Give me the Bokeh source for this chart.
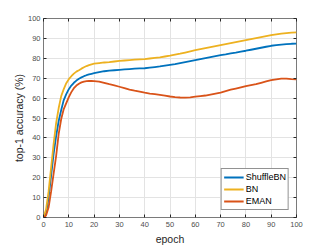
from bokeh.plotting import figure
from bokeh.models import LinearAxis, Label, Legend, LegendItem, FixedTicker, Range1d, CustomJSTickFormatter
from bokeh.embed import file_html
from bokeh.resources import INLINE

epochs = [0, 1, 2, 3, 4, 5, 6, 7, 8, 9, 10, 11, 12, 13, 14, 15, 16, 17, 18, 19, 20,
          22, 24, 26, 28, 30, 32, 34, 36, 38, 40, 42, 44, 46, 48, 50, 52, 54, 56, 58, 60,
          62, 64, 66, 68, 70, 72, 74, 76, 78, 80, 82, 84, 86, 88, 90, 92, 94, 96, 98, 100]

shufflebn = [0, 2, 10, 21, 32, 41, 48.5, 54, 59, 62, 64.5, 66.3, 67.7, 68.8, 69.7, 70.4, 71, 71.5, 71.9, 72.2, 72.5,
             73, 73.5, 73.8, 74, 74.2, 74.4, 74.6, 74.8, 74.9, 75, 75.3, 75.6, 75.9, 76.3, 76.7, 77.1, 77.6, 78.1, 78.6, 79.1,
             79.6, 80.1, 80.6, 81.1, 81.6, 82, 82.5, 82.9, 83.4, 83.8, 84.3, 84.8, 85.3, 85.8, 86.3, 86.6, 86.9, 87.1, 87.3, 87.4]

bn = [0, 4, 13, 25, 37, 47.5, 55, 61, 64.5, 67.5, 69.5, 71, 72.3, 73.3, 74, 74.8, 75.5, 76.1, 76.6, 77, 77.3,
      77.6, 77.9, 78.1, 78.4, 78.7, 78.9, 79.1, 79.3, 79.5, 79.6, 79.9, 80.2, 80.5, 80.9, 81.3, 81.8, 82.3, 82.9, 83.5, 84.1,
      84.6, 85.1, 85.6, 86.1, 86.6, 87.1, 87.6, 88.1, 88.6, 89.1, 89.6, 90.1, 90.6, 91.1, 91.6, 92, 92.4, 92.7, 92.9, 93]

eman = [0, 1, 5, 13, 22, 31, 42, 49.5, 54.5, 57.5, 60.5, 63, 65, 66.3, 67.2, 67.9, 68.3, 68.5, 68.6, 68.6, 68.5,
        68.3, 67.7, 67, 66.4, 65.7, 65, 64.3, 63.7, 63.2, 62.7, 62.3, 62, 61.6, 61.2, 60.8, 60.5, 60.3, 60.2, 60.4, 60.7,
        61, 61.3, 61.8, 62.3, 62.8, 63.5, 64.2, 64.8, 65.4, 66, 66.5, 67, 67.7, 68.4, 69, 69.4, 69.8, 69.8, 69.5, 69.4]

x_ticks = [0, 10, 20, 30, 40, 50, 60, 70, 80, 90, 100]
y_ticks = [0, 10, 20, 30, 40, 50, 60, 70, 80, 90, 100]
series_names = ["ShuffleBN", "BN", "EMAN"]
colors = ["#0072BD", "#EDB120", "#D95319"]
title_text = "MoCo on ImageNet"

FONT = "Liberation Sans"
AXC = "#262626"
TICKC = "#4d4d4d"

p = figure(frame_width=253, frame_height=199, output_backend="svg", toolbar_location=None,
           x_range=Range1d(0, 100), y_range=Range1d(0, 100),
           min_border_left=43, min_border_right=23, min_border_top=18, min_border_bottom=20)
p.background_fill_color = "white"
p.border_fill_color = "white"
p.outline_line_color = "#7a7a7a"
p.outline_line_width = 1

for ax in (p.xaxis[0], p.yaxis[0]):
    ax.axis_line_color = None
    ax.major_tick_in = 3
    ax.major_tick_out = 0
    ax.minor_tick_line_color = None
    ax.major_tick_line_color = AXC
    ax.major_label_text_font = FONT
    ax.major_label_text_font_size = "7.5px"
    ax.major_label_text_color = TICKC
    ax.axis_label_text_font = FONT
    ax.axis_label_text_font_size = "10.5px"
    ax.axis_label_text_font_style = "normal"
    ax.axis_label_text_color = AXC

p.xaxis.ticker = FixedTicker(ticks=x_ticks)
p.yaxis.ticker = FixedTicker(ticks=y_ticks)
p.xaxis.axis_label = "epoch"
p.yaxis.axis_label = "top-1 accuracy (%)"
p.xaxis.major_label_standoff = 4
p.yaxis.major_label_standoff = 3
p.xaxis.axis_label_standoff = 3
p.yaxis.axis_label_standoff = 0

for loc, tk in (("right", y_ticks), ("above", x_ticks)):
    ax = LinearAxis(ticker=FixedTicker(ticks=tk), formatter=CustomJSTickFormatter(code="return ''"))
    ax.axis_line_color = None
    ax.major_tick_in = 3
    ax.major_tick_out = 0
    ax.minor_tick_line_color = None
    ax.major_tick_line_color = AXC
    ax.major_label_standoff = 0
    ax.major_label_text_font_size = "1px"
    p.add_layout(ax, loc)

p.xgrid.ticker = FixedTicker(ticks=x_ticks)
p.ygrid.ticker = FixedTicker(ticks=y_ticks)
p.grid.grid_line_color = "#e3e3e3"
p.grid.grid_line_width = 1

items = []
for name, ys, c in zip(series_names, [shufflebn, bn, eman], colors):
    r = p.line(epochs, ys, line_color=c, line_width=1.8)
    items.append(LegendItem(label=name, renderers=[r]))

legend = Legend(items=items, location="bottom_right", margin=7, padding=2, spacing=0,
                label_text_font=FONT, label_text_font_size="9px", label_text_color="#000000",
                glyph_width=20, glyph_height=12, label_height=12, label_standoff=2,
                border_line_color=AXC, border_line_width=1, background_fill_color="white",
                background_fill_alpha=1)
p.add_layout(legend)

p.add_layout(Label(x=50, y=104.5, text=title_text, text_align="center", text_baseline="middle",
                   text_font=FONT, text_font_size="11px", text_color="#000000"))

open("out.html", "w").write(file_html(p, INLINE))
